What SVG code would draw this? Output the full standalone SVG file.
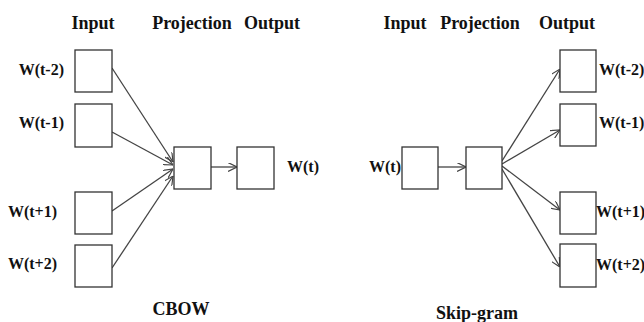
<svg xmlns="http://www.w3.org/2000/svg" width="644" height="322" viewBox="0 0 644 322">
<style>
.box{fill:#fff;stroke:#333;stroke-width:1.3}
.h{font-family:"Liberation Serif",serif;font-weight:bold;font-size:18px;fill:#111}
.w{font-family:"Liberation Serif",serif;font-weight:bold;font-size:16px;fill:#111}
.c{fill:none;stroke:#444;stroke-width:1.3}
</style>
<defs>
<marker id="ah" viewBox="0 0 10 10" refX="10" refY="5" markerWidth="9" markerHeight="9" markerUnits="userSpaceOnUse" orient="auto">
<path d="M0,0 L10,5 L0,10" fill="none" stroke="#444" stroke-width="1.3"/>
</marker>
</defs>
<rect width="644" height="322" fill="#fff"/>
<g id="titles">
<text class="h" x="93" y="29" text-anchor="middle">Input</text>
<text class="h" x="192" y="29" text-anchor="middle">Projection</text>
<text class="h" x="272" y="29" text-anchor="middle">Output</text>
<text class="h" x="181" y="315" text-anchor="middle">CBOW</text>
<text class="h" x="405" y="29" text-anchor="middle">Input</text>
<text class="h" x="480" y="29" text-anchor="middle">Projection</text>
<text class="h" x="567" y="29" text-anchor="middle">Output</text>
<text class="h" x="477" y="319" text-anchor="middle">Skip-gram</text>
</g>
<g id="connectors">
<line class="c" x1="112" y1="68" x2="173" y2="162" marker-end="url(#ah)"/>
<line class="c" x1="112" y1="132" x2="173" y2="165" marker-end="url(#ah)"/>
<line class="c" x1="112" y1="211" x2="173" y2="169" marker-end="url(#ah)"/>
<line class="c" x1="112" y1="268" x2="173" y2="176" marker-end="url(#ah)"/>
<line class="c" x1="211" y1="167" x2="237" y2="167" marker-end="url(#ah)"/>
<line class="c" x1="438" y1="167" x2="466" y2="167" marker-end="url(#ah)"/>
<line class="c" x1="502" y1="161" x2="560" y2="69" marker-end="url(#ah)"/>
<line class="c" x1="502" y1="164" x2="560" y2="130" marker-end="url(#ah)"/>
<line class="c" x1="502" y1="166" x2="560" y2="210" marker-end="url(#ah)"/>
<line class="c" x1="502" y1="169" x2="560" y2="267" marker-end="url(#ah)"/>
</g>
<g id="cbow-in1"><rect class="box" x="75" y="50" width="37" height="42"/><text class="w" x="64" y="75" text-anchor="end">W(t-2)</text></g>
<g id="cbow-in2"><rect class="box" x="75" y="104" width="37" height="43"/><text class="w" x="64" y="128" text-anchor="end">W(t-1)</text></g>
<g id="cbow-in3"><rect class="box" x="75" y="192" width="37" height="42"/><text class="w" x="57" y="217" text-anchor="end">W(t+1)</text></g>
<g id="cbow-in4"><rect class="box" x="75" y="245" width="37" height="42"/><text class="w" x="57" y="269" text-anchor="end">W(t+2)</text></g>
<g id="cbow-proj"><rect class="box" x="174" y="147" width="37" height="42"/></g>
<g id="cbow-out"><rect class="box" x="237" y="147" width="37" height="42"/><text class="w" x="287" y="172">W(t)</text></g>
<g id="sg-in"><rect class="box" x="402" y="147" width="36" height="42"/><text class="w" x="401" y="172" text-anchor="end">W(t)</text></g>
<g id="sg-proj"><rect class="box" x="466" y="147" width="36" height="42"/></g>
<g id="sg-out1"><rect class="box" x="560" y="50" width="36" height="42"/><text class="w" x="599" y="75">W(t-2)</text></g>
<g id="sg-out2"><rect class="box" x="560" y="104" width="36" height="42"/><text class="w" x="599" y="128">W(t-1)</text></g>
<g id="sg-out3"><rect class="box" x="560" y="192" width="36" height="42"/><text class="w" x="596" y="217">W(t+1)</text></g>
<g id="sg-out4"><rect class="box" x="560" y="244" width="36" height="43"/><text class="w" x="596" y="270">W(t+2)</text></g>
</svg>
